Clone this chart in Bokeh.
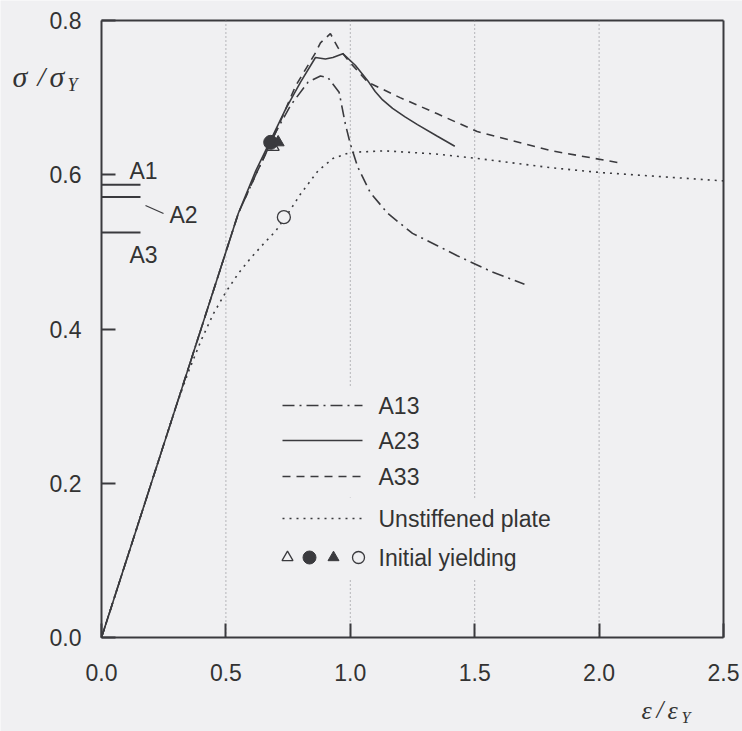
from bokeh.plotting import figure
from bokeh.models import FixedTicker, PrintfTickFormatter
from bokeh.core.properties import value
from bokeh.embed import file_html
from bokeh.resources import INLINE

# ---------------- data ----------------
a13_x = [0.0, 0.30, 0.55, 0.62, 0.70, 0.76, 0.83, 0.88, 0.91, 0.955, 0.98, 1.00, 1.03, 1.08, 1.15, 1.25, 1.35, 1.43, 1.57, 1.70]
a13_y = [0.0, 0.30, 0.55, 0.60, 0.655, 0.69, 0.72, 0.728, 0.726, 0.707, 0.666, 0.640, 0.610, 0.577, 0.550, 0.524, 0.508, 0.495, 0.474, 0.458]

a23_x = [0.0, 0.30, 0.55, 0.62, 0.68, 0.74, 0.80, 0.86, 0.90, 0.93, 0.97, 1.02, 1.07, 1.10, 1.13, 1.17, 1.22, 1.27, 1.35, 1.42]
a23_y = [0.0, 0.30, 0.55, 0.605, 0.645, 0.685, 0.72, 0.752, 0.750, 0.752, 0.757, 0.742, 0.722, 0.708, 0.697, 0.686, 0.675, 0.665, 0.650, 0.637]

a33_x = [0.0, 0.30, 0.55, 0.62, 0.70, 0.78, 0.86, 0.88, 0.92, 0.95, 0.995, 1.07, 1.20, 1.35, 1.51, 1.81, 2.09]
a33_y = [0.0, 0.30, 0.55, 0.60, 0.655, 0.715, 0.758, 0.771, 0.783, 0.765, 0.747, 0.720, 0.700, 0.679, 0.656, 0.631, 0.615]

unst_x = [0.0, 0.30, 0.35, 0.40, 0.45, 0.50, 0.55, 0.60, 0.65, 0.70, 0.75, 0.80, 0.87, 0.93, 1.00, 1.14, 1.34, 1.54, 1.81, 2.00, 2.50]
unst_y = [0.0, 0.30, 0.345, 0.385, 0.42, 0.448, 0.472, 0.492, 0.51, 0.527, 0.55, 0.575, 0.605, 0.621, 0.629, 0.631, 0.627, 0.620, 0.609, 0.603, 0.592]

# initial yielding: A13 (open tri), A23 (filled circle), A33 (filled tri), unstiffened (open circle)
yield_x = [0.69, 0.68, 0.71, 0.733]
yield_y = [0.636, 0.642, 0.642, 0.545]

ref_names = ["A1", "A2", "A3"]
ref_levels = [0.587, 0.571, 0.525]

x_ticks = [0.0, 0.5, 1.0, 1.5, 2.0, 2.5]
y_ticks = [0.0, 0.2, 0.4, 0.6, 0.8]
grid_x = [0.5, 1.0, 1.5, 2.0]

legend_names = ["A13", "A23", "A33", "Unstiffened plate", "Initial yielding"]

# ---------------- layout: the frame fills the canvas, axes are pinned at 0 ----------------
W, H = 742, 731
FL, FR, FT, FB = 101, 723, 20, 637          # pixel box of the data area (0..2.5, 0..0.8)
XMAX, YMAX = 2.5, 0.8
sx = XMAX / (FR - FL)
sy = YMAX / (FB - FT)
x_start, x_end = -FL * sx, XMAX + (W - FR) * sx
y_start, y_end = -(H - FB) * sy, YMAX + FT * sy

def dx(px):
    return (px - FL) * sx
def dy(py):
    return (FB - py) * sy

BG = "#f0f0f2"
INK = "#3a3a3e"
TXT = "#333333"
FONT = "Liberation Sans"
SERIF = "Liberation Serif"
FS = "23px"

p = figure(width=W, height=H, x_range=(x_start, x_end), y_range=(y_start, y_end),
           output_backend="svg", toolbar_location=None, min_border=0)
p.background_fill_color = BG
p.border_fill_color = BG
p.outline_line_color = None
p.grid.visible = False

for ax in (p.xaxis, p.yaxis):
    ax.fixed_location = 0
    ax.major_tick_in = 14
    ax.major_tick_out = 0
    ax.minor_tick_line_color = None
    ax.axis_line_color = INK
    ax.axis_line_width = 2
    ax.major_tick_line_color = INK
    ax.major_tick_line_width = 2
    ax.major_label_text_font = FONT
    ax.major_label_text_font_size = FS
    ax.major_label_text_color = TXT
    ax.formatter = PrintfTickFormatter(format="%.1f")
p.xaxis.ticker = FixedTicker(ticks=x_ticks)
p.yaxis.ticker = FixedTicker(ticks=y_ticks)
p.xaxis.bounds = (0, XMAX)
p.yaxis.bounds = (0, YMAX)
p.xaxis.major_label_standoff = 26
p.yaxis.major_label_standoff = 20

# top and right edges of the box
p.segment(x0=[0, XMAX], y0=[YMAX, 0], x1=[XMAX, XMAX], y1=[YMAX, YMAX], line_color=INK, line_width=2)

# dotted vertical grid lines
p.segment(x0=grid_x, y0=[0] * 4, x1=grid_x, y1=[YMAX] * 4,
          line_color="#7a7a80", line_width=1, line_dash="1 3")

# legend background blocks (interrupt the grid lines as in the original)
rows_py = [405, 440, 476, 518, 557]
rows_right = [432, 432, 432, 562, 545]
p.quad(left=[dx(272)] * 5, right=[dx(r) for r in rows_right],
       bottom=[dy(py + 21) for py in rows_py], top=[dy(py - 19) for py in rows_py],
       fill_color=BG, line_color=None)

# curves
lw = 1.6
p.line(a13_x, a13_y, line_color=INK, line_width=lw, line_dash="12 5 2 5")
p.line(a23_x, a23_y, line_color=INK, line_width=lw)
p.line(a33_x, a33_y, line_color=INK, line_width=lw, line_dash="8 6")
p.line(unst_x, unst_y, line_color=INK, line_width=lw, line_dash="2 5")

# initial yielding markers
p.scatter([yield_x[0]], [yield_y[0]], marker="triangle", size=12, fill_color=BG, line_color=INK, line_width=1.3)
p.scatter([yield_x[1]], [yield_y[1]], marker="circle", size=14, fill_color=INK, line_color=INK)
p.scatter([yield_x[2]], [yield_y[2]], marker="triangle", size=12, fill_color=INK, line_color=INK)
p.scatter([yield_x[3]], [yield_y[3]], marker="circle", size=13, fill_color=BG, line_color=INK, line_width=1.3)

# A1 / A2 / A3 strength levels
p.segment(x0=[0] * 3, y0=ref_levels, x1=[dx(140)] * 3, y1=ref_levels, line_color=INK, line_width=2)
p.text(x=[dx(129), dx(169), dx(129)], y=[dy(170), dy(214), dy(254)], text=ref_names,
       text_font=value(FONT), text_font_size=FS, text_color=TXT,
       text_align="left", text_baseline="middle")
p.segment(x0=[dx(145)], y0=[dy(205)], x1=[dx(163)], y1=[dy(213)], line_color=INK, line_width=1.2)

# legend
sx0, sx1, tx = dx(282), dx(362), dx(378)
dashes = ["12 5 2 5", "solid", "8 6", "2 5"]
for i in range(4):
    p.line([sx0, sx1], [dy(rows_py[i])] * 2, line_color=INK, line_width=lw, line_dash=dashes[i])
my = dy(rows_py[4])
p.scatter([dx(287)], [my], marker="triangle", size=11, fill_color=BG, line_color=INK, line_width=1.3)
p.scatter([dx(309)], [my], marker="circle", size=13, fill_color=INK, line_color=INK)
p.scatter([dx(333)], [my], marker="triangle", size=11, fill_color=INK, line_color=INK)
p.scatter([dx(358)], [my], marker="circle", size=12, fill_color=BG, line_color=INK, line_width=1.3)
p.text(x=[tx] * 5, y=[dy(py) for py in rows_py], text=legend_names,
       text_font=value(FONT), text_font_size=FS, text_color=TXT,
       text_align="left", text_baseline="middle")

# axis titles (italic serif) with subscript Y
def title_piece(px, py, t, size):
    p.text(x=[dx(px)], y=[dy(py)], text=[t], text_font=value(SERIF), text_font_style="italic",
           text_font_size=size, text_color=TXT, text_align="left", text_baseline="middle")

title_piece(12, 76, "\u03c3", "30px")
title_piece(37, 76, "/", "28px")
title_piece(49, 76, "\u03c3", "30px")
title_piece(67, 84, "Y", "18px")

title_piece(641, 710, "\u03b5", "26px")
title_piece(656, 709, "/", "25px")
title_piece(667, 710, "\u03b5", "26px")
title_piece(681, 717, "Y", "16px")

open("out.html", "w").write(file_html(p, INLINE))
